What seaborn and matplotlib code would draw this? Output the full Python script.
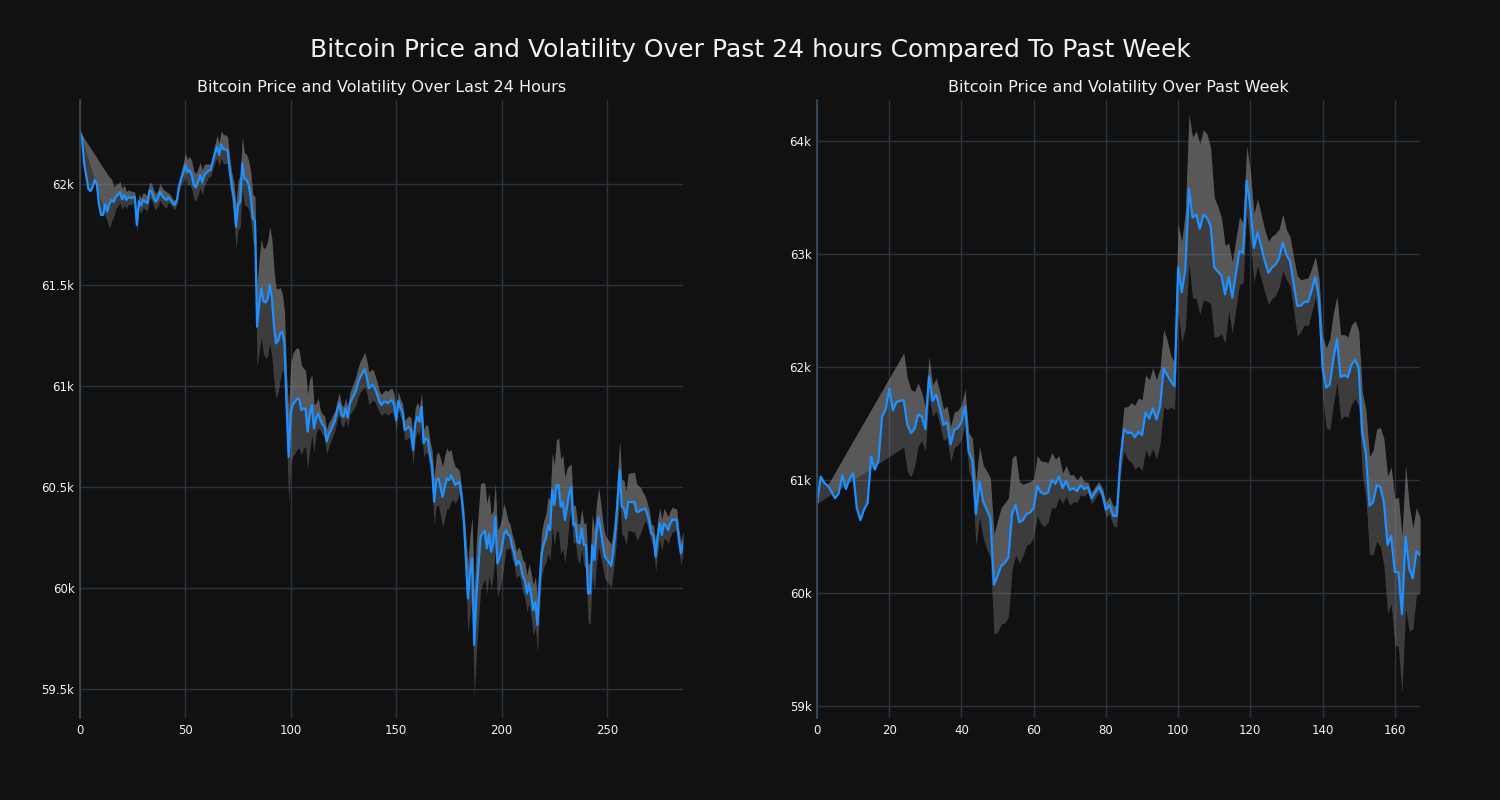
import numpy as np
import pandas as pd
import matplotlib
matplotlib.use("Agg")
import matplotlib.pyplot as plt
import matplotlib.ticker as mticker
import seaborn as sns

# Bitcoin price, 5-minute steps over the last 24 hours
price_24h = [
    62259, 62230, 62100, 62040, 61975, 61965, 61985, 62020, 62000, 61900,
    61847, 61847, 61900, 61865, 61905, 61921, 61912, 61937, 61946, 61960,
    61925, 61946, 61921, 61937, 61930, 61934, 61937, 61797, 61915, 61893,
    61921, 61912, 61904, 61970, 61962, 61929, 61912, 61930, 61962, 61940,
    61929, 61921, 61934, 61921, 61905, 61896, 61921, 61990, 62028, 62056,
    62094, 62058, 62069, 62044, 61995, 61983, 62011, 62044, 62008, 62044,
    62056, 62066, 62070, 62111, 62152, 62185, 62144, 62196, 62172, 62172,
    62168, 62070, 61990, 61930, 61789, 61896, 61912, 62102, 62025, 62020,
    61995, 61937, 61830, 61818, 61294, 61400, 61484, 61419, 61414, 61430,
    61501, 61440, 61300, 61211, 61225, 61261, 61269, 61211, 60900, 60650,
    60865, 60910, 60923, 60939, 60935, 60881, 60890, 60888, 60774, 60860,
    60906, 60790, 60840, 60865, 60832, 60810, 60799, 60725, 60760, 60782,
    60807, 60830, 60880, 60914, 60857, 60848, 60890, 60845, 60914, 60935,
    60956, 60980, 61020, 61047, 61063, 61083, 61047, 60989, 61000, 61006,
    60985, 60956, 60923, 60906, 60920, 60923, 60914, 60925, 60931, 60906,
    60832, 60927, 60890, 60873, 60782, 60790, 60799, 60782, 60683, 60815,
    60848, 60823, 60898, 60716, 60741, 60733, 60658, 60600, 60427, 60534,
    60543, 60500, 60452, 60500, 60543, 60534, 60559, 60534, 60510, 60518,
    60526, 60450, 60340, 60155, 59949, 60073, 60147, 59718, 59950, 60106,
    60254, 60271, 60284, 60197, 60268, 60180, 60221, 60353, 60122, 60150,
    60188, 60262, 60287, 60265, 60257, 60204, 60171, 60114, 60135, 60114,
    60060, 60039, 59973, 60023, 59965, 59891, 59932, 59817, 60023, 60171,
    60221, 60246, 60312, 60287, 60485, 60411, 60510, 60510, 60403, 60427,
    60337, 60400, 60468, 60501, 60312, 60320, 60228, 60221, 60295, 60213,
    60213, 59974, 59974, 60213, 60139, 60271, 60350, 60287, 60213, 60155,
    60140, 60126, 60109, 60188, 60287, 60436, 60584, 60403, 60395, 60345,
    60427, 60427, 60425, 60427, 60378, 60378, 60386, 60390, 60394, 60370,
    60330, 60271, 60262, 60155, 60254, 60320, 60262, 60320, 60307, 60287,
    60320, 60340, 60337, 60340, 60246, 60172, 60221,
]

# Bitcoin price, hourly steps over the past week
price_week = [
    60792, 61030, 60975, 60949, 60895, 60839, 60883, 61041, 60920, 61011,
    61059, 60755, 60645, 60736, 60799, 61206, 61092, 61169, 61561, 61624,
    61807, 61617, 61690, 61701, 61708, 61488, 61415, 61451, 61580, 61561,
    61451, 61917, 61701, 61756, 61635, 61488, 61514, 61316, 61444, 61462,
    61514, 61653, 61250, 61176, 60700, 60986, 60810, 60736, 60663, 60076,
    60150, 60241, 60267, 60315, 60700, 60780, 60626, 60645, 60700, 60711,
    60755, 60949, 60890, 60876, 60890, 61000, 60967, 61030, 60927, 60993,
    60912, 60927, 60901, 60956, 60920, 60938, 60839, 60890, 60938, 60883,
    60736, 60780, 60682, 60682, 61176, 61451, 61415, 61422, 61378, 61426,
    61397, 61598, 61543, 61635, 61536, 61653, 61990, 61928, 61873, 61829,
    62882, 62662, 62863, 63578, 63322, 63347, 63223, 63347, 63322, 63248,
    62882, 62845, 62808, 62643, 62797, 62614, 62827, 63028, 63010, 63652,
    63421, 63054, 63193, 63065, 62937, 62834, 62882, 62907, 62966, 63102,
    62992, 62937, 62735, 62540, 62544, 62577, 62577, 62680, 62797, 62607,
    62001, 61818, 61844, 62075, 62247, 61910, 61928, 61910, 62020, 62064,
    61990, 61415, 61232, 60773, 60802, 60956, 60938, 60802, 60425, 60509,
    60186, 60186, 59812, 60498, 60215, 60131, 60370, 60333,
]

suptitle = "Bitcoin Price and Volatility Over Past 24 hours Compared To Past Week"
title_24h = "Bitcoin Price and Volatility Over Last 24 Hours"
title_week = "Bitcoin Price and Volatility Over Past Week"

BG = "#111111"
GRID = "#283442"
TEXT = "#f2f2f2"
LINE = "#1e90ff"
BAND = "#8a8a8a"

sns.set_theme(style="darkgrid", rc={
    "figure.facecolor": BG,
    "axes.facecolor": BG,
    "axes.edgecolor": GRID,
    "grid.color": GRID,
    "grid.linewidth": 1.0,
    "text.color": TEXT,
    "xtick.color": TEXT,
    "ytick.color": TEXT,
    "axes.labelcolor": TEXT,
})
plt.rcParams["font.family"] = ["DejaVu Sans"]


def volatility_band(price, window, start):
    # rolling std band around the price; the first point anchors the band,
    # the gap up to `start` is bridged by a straight edge
    s = pd.Series(price, dtype=float)
    vol = s.rolling(window).std()
    vol.iloc[1:start] = np.nan
    vol.iloc[0] = 0.0
    keep = vol.notna()
    xb = s.index[keep].to_numpy()
    t = np.arange(len(s))
    lo = np.interp(t, xb, (s - vol)[keep].to_numpy())
    hi = np.interp(t, xb, (s + vol)[keep].to_numpy())
    return t, lo, hi


def k_fmt(v, pos):
    return f"{v / 1000:g}k"


def draw(ax, price, start, title, ylim):
    t, lo, hi = volatility_band(price, 15, start)
    # price -> upper and lower -> upper, overlapping half-transparent fills
    ax.fill_between(t, price, hi, color=BAND, alpha=0.36, linewidth=0)
    ax.fill_between(t, lo, hi, color=BAND, alpha=0.36, linewidth=0)
    df = pd.DataFrame({"t": t, "price": price})
    sns.lineplot(data=df, x="t", y="price", ax=ax, color=LINE, linewidth=1.6)
    ax.set_xlim(0, len(price) - 1)
    ax.set_ylim(*ylim)
    ax.set_title(title, fontsize=11.5, color=TEXT, pad=6)
    ax.set_xlabel("")
    ax.set_ylabel("")
    ax.yaxis.set_major_formatter(mticker.FuncFormatter(k_fmt))
    ax.tick_params(labelsize=8.5, length=0, pad=4)
    for side in ["top", "right", "bottom"]:
        ax.spines[side].set_visible(False)
    ax.spines["left"].set_visible(True)
    ax.spines["left"].set_color("#3a4a5c")


fig = plt.figure(figsize=(15, 8), dpi=100)
ax1 = fig.add_axes([0.0533, 0.1025, 0.402, 0.7725])
ax2 = fig.add_axes([0.5447, 0.1025, 0.402, 0.7725])

draw(ax1, price_24h, 14, title_24h, (59357, 62416))
draw(ax2, price_week, 24, title_week, (58894, 64363))
ax2.xaxis.set_major_locator(mticker.MultipleLocator(20))

fig.suptitle(suptitle, fontsize=18, color=TEXT, y=0.952)

fig.savefig("out.png", dpi=100, facecolor=BG)
